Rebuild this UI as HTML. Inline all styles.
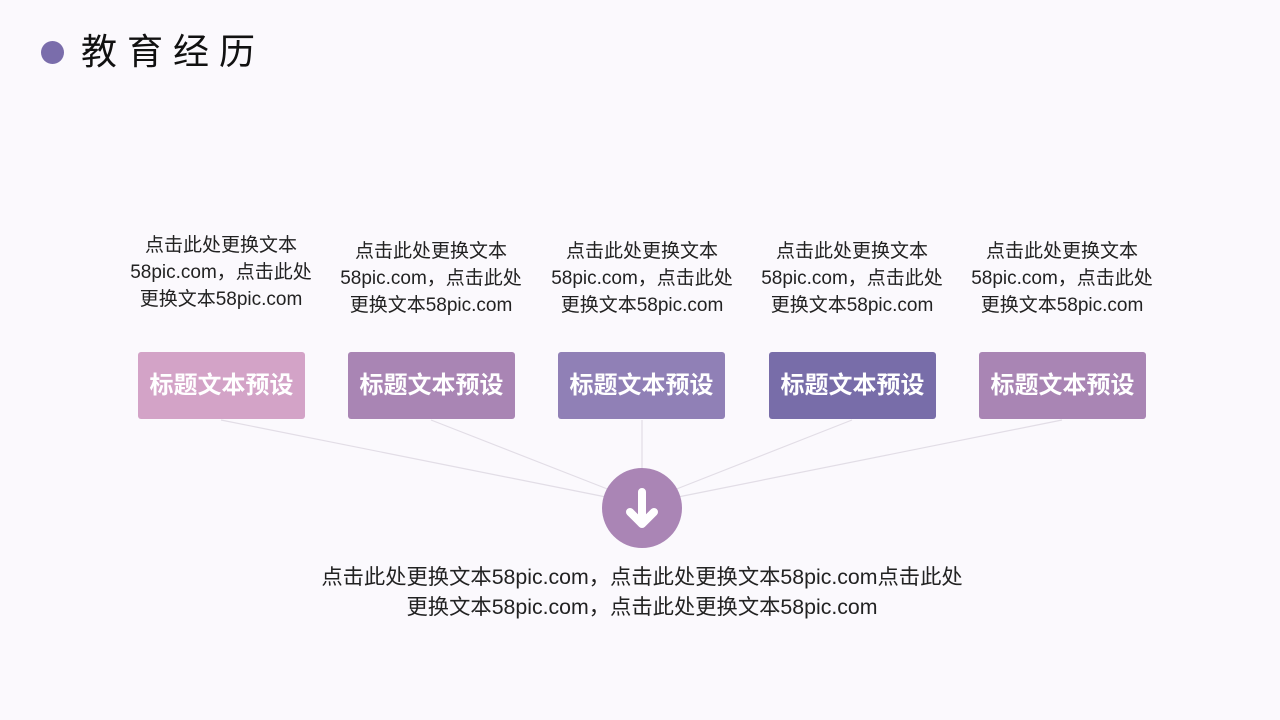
<!DOCTYPE html>
<html><head><meta charset="utf-8"><style>
body{margin:0;width:1280px;height:720px;background:#fbf9fd;position:relative;overflow:hidden;font-family:"Liberation Sans","Noto Sans CJK SC",sans-serif;}
.dot{position:absolute;left:41px;top:41px;width:23px;height:23px;border-radius:50%;background:#7a6dab;}
.title{position:absolute;left:81px;top:30px;font-size:36px;letter-spacing:10px;color:#111;line-height:44px;}
.t{position:absolute;width:220px;text-align:center;font-size:19px;line-height:27px;color:#222;}
.b{position:absolute;top:352px;width:167px;height:67px;border-radius:3px;color:#fff;font-weight:bold;font-size:24px;line-height:67px;text-align:center;}
.bt{position:absolute;left:200px;width:884px;text-align:center;top:562px;font-size:21.3px;line-height:30px;color:#222;}
</style></head><body>
<div class="dot"></div><div class="title">教育经历</div>
<svg width="1280" height="720" style="position:absolute;left:0;top:0">
<g stroke="#e2dde6" stroke-width="1.2">
<line x1="221" y1="420" x2="606" y2="497"/>
<line x1="431" y1="420" x2="610" y2="490"/>
<line x1="642" y1="420" x2="642" y2="470"/>
<line x1="852" y1="420" x2="674" y2="490"/>
<line x1="1062" y1="420" x2="678" y2="497"/>
</g>
<circle cx="642" cy="508" r="40" fill="#aa85b5"/>
<path d="M642 492 V522 M630 512 L642 524 L654 512" stroke="#fff" stroke-width="8" stroke-linecap="round" stroke-linejoin="round" fill="none"/>
</svg>
<div class="t" style="left:111px;top:232px">点击此处更换文本<br>58pic.com，点击此处<br>更换文本58pic.com</div>
<div class="t" style="left:321px;top:238px">点击此处更换文本<br>58pic.com，点击此处<br>更换文本58pic.com</div>
<div class="t" style="left:532px;top:238px">点击此处更换文本<br>58pic.com，点击此处<br>更换文本58pic.com</div>
<div class="t" style="left:742px;top:238px">点击此处更换文本<br>58pic.com，点击此处<br>更换文本58pic.com</div>
<div class="t" style="left:952px;top:238px">点击此处更换文本<br>58pic.com，点击此处<br>更换文本58pic.com</div>
<div class="b" style="left:138px;background:#d3a3c7">标题文本预设</div>
<div class="b" style="left:348px;background:#a985b4">标题文本预设</div>
<div class="b" style="left:558px;background:#9080b6">标题文本预设</div>
<div class="b" style="left:769px;background:#786da9">标题文本预设</div>
<div class="b" style="left:979px;background:#a985b4">标题文本预设</div>
<div class="bt">点击此处更换文本58pic.com，点击此处更换文本58pic.com点击此处<br>更换文本58pic.com，点击此处更换文本58pic.com</div>
</body></html>
